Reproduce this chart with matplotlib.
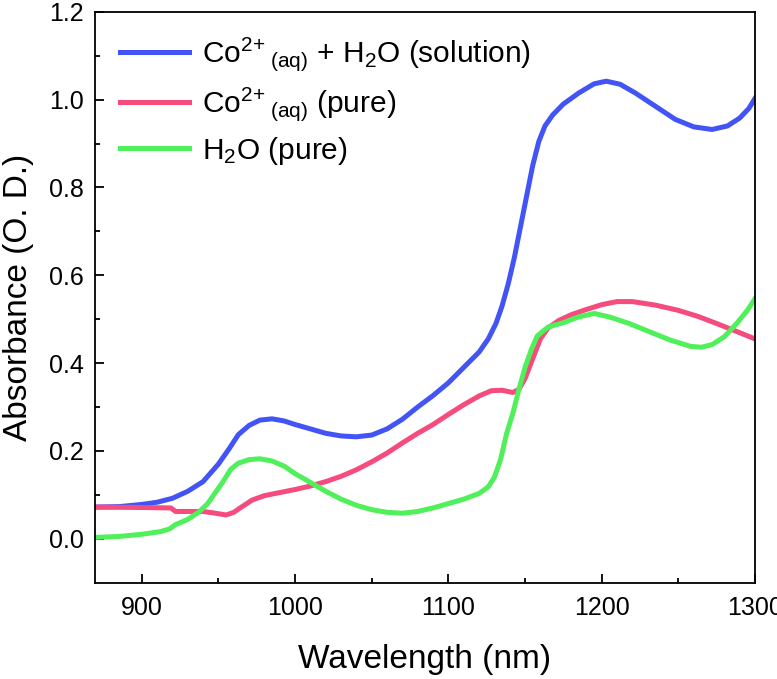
import numpy as np
import matplotlib.pyplot as plt

plt.rcParams['font.family'] = ['Liberation Sans', 'DejaVu Sans']
plt.rcParams['mathtext.default'] = 'regular'

# Data
wl_sol = [870, 885, 900, 910, 920, 930, 940, 950, 957, 963, 970, 977, 985, 993,
          1000, 1010, 1020, 1030, 1040, 1050, 1060, 1070, 1080, 1090, 1100, 1110,
          1120, 1126, 1131, 1135, 1139, 1143, 1147, 1151, 1155, 1159, 1163, 1168,
          1175, 1185, 1195, 1203, 1212, 1222, 1235, 1248, 1260, 1272, 1282, 1290,
          1296, 1300]
abs_sol = [0.072, 0.073, 0.078, 0.083, 0.092, 0.108, 0.130, 0.170, 0.205, 0.237,
           0.258, 0.270, 0.273, 0.268, 0.260, 0.250, 0.240, 0.234, 0.232, 0.236,
           0.250, 0.272, 0.300, 0.326, 0.355, 0.390, 0.425, 0.455, 0.490, 0.530,
           0.580, 0.640, 0.710, 0.780, 0.850, 0.905, 0.940, 0.965, 0.990, 1.015,
           1.036, 1.042, 1.035, 1.015, 0.985, 0.955, 0.938, 0.932, 0.940, 0.958,
           0.980, 1.003]

wl_co = [870, 900, 919, 922, 930, 940, 948, 955, 960, 965, 972, 980, 990, 1000,
         1010, 1020, 1030, 1040, 1050, 1060, 1070, 1080, 1090, 1100, 1110, 1120,
         1128, 1135, 1142, 1146, 1150, 1155, 1160, 1165, 1172, 1180, 1190, 1200,
         1210, 1220, 1235, 1250, 1263, 1275, 1288, 1300]
abs_co = [0.072, 0.071, 0.070, 0.062, 0.062, 0.062, 0.058, 0.054, 0.060, 0.072,
          0.088, 0.098, 0.105, 0.112, 0.120, 0.130, 0.142, 0.157, 0.175, 0.195,
          0.218, 0.240, 0.260, 0.283, 0.305, 0.325, 0.337, 0.338, 0.333, 0.340,
          0.365, 0.410, 0.455, 0.480, 0.497, 0.510, 0.522, 0.533, 0.540, 0.540,
          0.532, 0.520, 0.506, 0.490, 0.472, 0.455]

wl_h2o = [870, 885, 900, 912, 918, 922, 930, 937, 943, 948, 953, 958, 963, 970,
          977, 985, 993, 1000, 1010, 1020, 1030, 1040, 1050, 1060, 1070, 1080,
          1090, 1100, 1110, 1120, 1126, 1130, 1134, 1138, 1142, 1146, 1150, 1154,
          1158, 1165, 1175, 1185, 1195, 1205, 1218, 1230, 1245, 1258, 1265, 1272,
          1280, 1288, 1295, 1300]
abs_h2o = [0.003, 0.005, 0.010, 0.016, 0.022, 0.032, 0.044, 0.060, 0.080, 0.105,
           0.130, 0.158, 0.172, 0.180, 0.182, 0.177, 0.165, 0.148, 0.128, 0.108,
           0.090, 0.076, 0.066, 0.060, 0.058, 0.062, 0.070, 0.080, 0.090, 0.103,
           0.118, 0.140, 0.180, 0.240, 0.285, 0.340, 0.390, 0.430, 0.462, 0.482,
           0.492, 0.505, 0.513, 0.505, 0.490, 0.473, 0.452, 0.438, 0.436, 0.442,
           0.460, 0.490, 0.520, 0.547]

labels = [r'Co$^{2\!+}{}_{(aq)}$ + H$_2$O (solution)',
          r'Co$^{2\!+}{}_{(aq)}$ (pure)',
          r'H$_2$O (pure)']
colors = ['#4254F5', '#F54B7D', '#50F05A']

fig = plt.figure(figsize=(7.77, 6.79), dpi=100)
ax = fig.add_axes([0.1223, 0.142, 0.8494, 0.8406])

ax.plot(wl_sol, abs_sol, color=colors[0], lw=3.6, label=labels[0])
ax.plot(wl_co, abs_co, color=colors[1], lw=3.6, label=labels[1])
ax.plot(wl_h2o, abs_h2o, color=colors[2], lw=3.6, label=labels[2])

ax.set_xlim(869.5, 1300)
ax.set_ylim(-0.1, 1.2)
ax.set_xticks(np.arange(900, 1301, 100))
ax.set_xticks(np.arange(950, 1300, 100), minor=True)
ax.set_yticks(np.arange(0, 1.21, 0.2))
ax.set_yticks(np.arange(0.1, 1.2, 0.2), minor=True)
ax.set_yticklabels([f'{v:.1f}' for v in np.arange(0, 1.21, 0.2)])

ax.tick_params(which='both', direction='in', top=False, right=False,
               labelsize=18, width=1.3)
ax.tick_params(which='major', length=6.5)
ax.tick_params(axis='x', which='major', pad=10)
ax.tick_params(axis='y', which='major', pad=8)
ax.tick_params(which='minor', length=3.5)
for s in ax.spines.values():
    s.set_linewidth(1.3)

ax.set_xlabel('Wavelength (nm)', fontsize=24, labelpad=17)
ax.set_ylabel('Absorbance (O. D.)', fontsize=24, labelpad=11)

ax.legend(loc='upper left', frameon=False, fontsize=21.5, handlelength=2.3,
          handletextpad=0.45, labelspacing=0.4, borderaxespad=0.2,
          bbox_to_anchor=(0.011, 0.99))

fig.savefig('out.png', dpi=100)
